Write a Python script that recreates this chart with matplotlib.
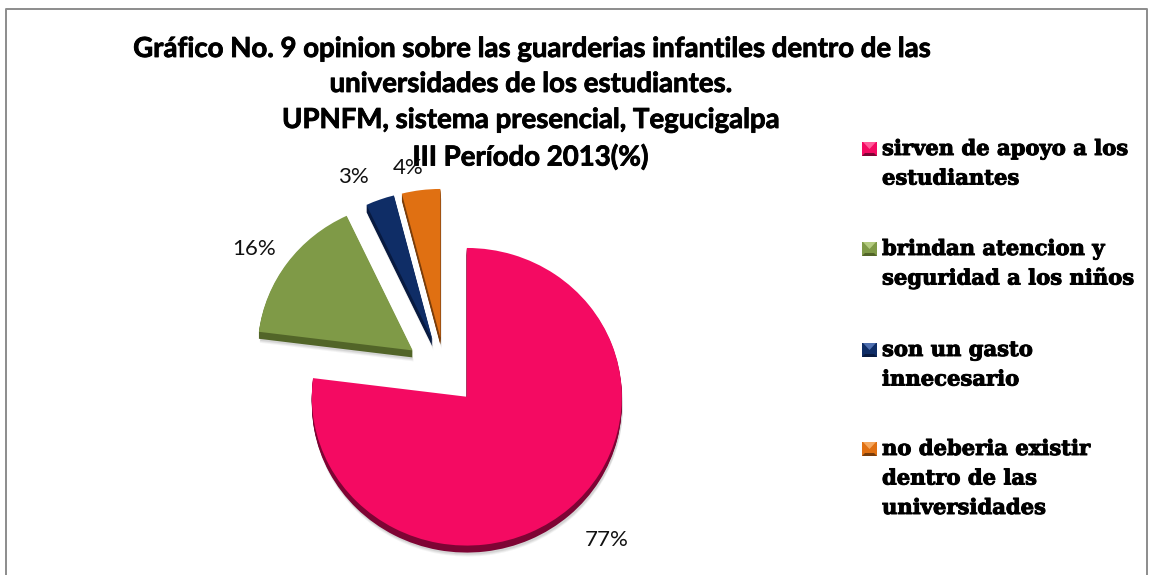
import matplotlib
matplotlib.use("Agg")
import matplotlib.pyplot as plt
import matplotlib.patheffects as pe
from matplotlib.patches import Rectangle, Polygon

# Data
categories = ["sirven de apoyo a los\nestudiantes",
              "brindan atencion y\nseguridad a los niños",
              "son un gasto\ninnecesario",
              "no deberia existir\ndentro de las\nuniversidades"]
values = [77, 16, 3, 4]
labels = ["77%", "16%", "3%", "4%"]
title_lines = ["Gráfico No. 9 opinion sobre las guarderias infantiles dentro de las",
               "universidades de los estudiantes.",
               "UPNFM, sistema presencial, Tegucigalpa",
               "III Período 2013(%)"]

top_colors = ["#F40A62", "#7F9A47", "#0F2D66", "#E07012"]
side_colors = ["#7E0434", "#526528", "#081A40", "#7A3D0A"]
light_colors = ["#FF5C9A", "#B4CB80", "#4F6FAF", "#F5A860"]

W, H = 1152, 575
R = 155
cx, cy = 445, 373
# pie() takes the explode distance in data units, here pixels
explode = [33, 40, 37, 37]
# the pie is a little flattened by the 3D tilt
squash = 0.96


def py(y):
    # pixel row to data y
    return H - y


fig = plt.figure(figsize=(W / 100, H / 100), dpi=100, facecolor="white")
pie_ax = fig.add_axes([0, 0, 1, 1])
ax = fig.add_axes([0, 0, 1, 1])
ax.patch.set_alpha(0)


def draw_pie(dx, dy, colors, wedgeprops):
    pie_ax.pie(values, explode=explode, radius=R,
               center=(cx + dx, py(cy + dy) / squash),
               startangle=90, counterclock=False,
               colors=colors, wedgeprops=wedgeprops)


# soft shadow under the slices
for off, alpha in [(11, 0.08), (10, 0.10), (9, 0.14)]:
    draw_pie(1, off, ["#707070"] * 4, {"alpha": alpha, "linewidth": 0})

# side of the slices
for d in range(1, 8):
    draw_pie(0, d, side_colors, {"linewidth": 0})

# top of the slices
draw_pie(0, 0, top_colors, {"linewidth": 0})

pie_ax.set_aspect("auto")
pie_ax.set_xlim(0, W)
pie_ax.set_ylim(0, H / squash)
pie_ax.axis("off")

ax.set_xlim(0, W)
ax.set_ylim(0, H)
ax.axis("off")

# chart border, bottom edge is cut off in the picture
ax.plot([5.5, 5.5, 1146.5, 1146.5], [0, py(8.5), py(8.5), 0], color="#8C8C8C", lw=1.4)

title_y = [49, 84, 120, 157]
title_stroke = [pe.withStroke(linewidth=0.6, foreground="black")]
for line, y in zip(title_lines, title_y):
    ax.text(530, py(y), line, family="Lato", weight="bold", fontsize=19.85,
            ha="center", va="center", color="black", path_effects=title_stroke)

# data labels
label_pos = [(607, 540), (254, 249), (353, 177), (408, 168)]
for lab, (x, y) in zip(labels, label_pos):
    ax.text(x, py(y), lab, family="Lato", fontsize=16, ha="center", va="center",
            color="#111111")

# legend
legend_y = [149, 249, 350, 449]
line_gap = 29.5
heavy = [pe.withStroke(linewidth=0.7, foreground="black")]
for cat, y, top, side, light in zip(categories, legend_y, top_colors, side_colors, light_colors):
    x0, x1 = 862, 877
    y0, y1 = py(y + 7), py(y - 7)
    ax.add_patch(Rectangle((x0, y0), x1 - x0, y1 - y0, fc=top, ec="none"))
    ax.add_patch(Polygon([(x0 + 1, y1), (x1 - 1, y1), ((x0 + x1) / 2, y1 - 7)],
                         fc=light, ec="none"))
    ax.add_patch(Polygon([(x0, y0), (x1, y0), (x1 - 3, y0 + 3), (x0 + 3, y0 + 3)],
                         fc=side, ec="none"))
    for i, part in enumerate(cat.split("\n")):
        ax.text(882, py(y + i * line_gap), part, family="DejaVu Serif", weight="bold",
                fontsize=15.2, ha="left", va="center", color="black", path_effects=heavy)

fig.savefig("out.png", dpi=100)
